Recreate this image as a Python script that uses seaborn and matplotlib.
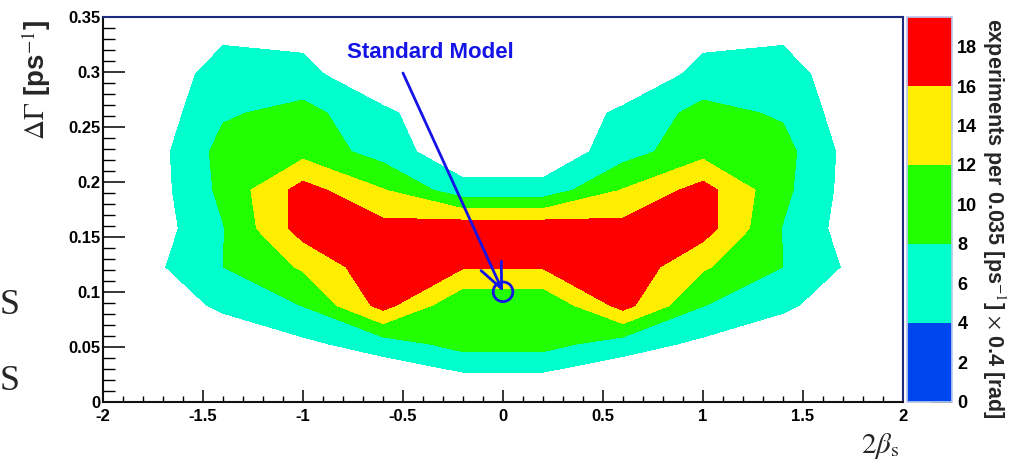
import numpy as np
import matplotlib
matplotlib.use('Agg')
import matplotlib.pyplot as plt
import matplotlib.ticker as mticker
from matplotlib.colors import ListedColormap, BoundaryNorm
import seaborn as sns

# bin centres of the 2D histogram (0.4 rad x 0.035 ps^-1 bins)
beta_centers = [-1.8, -1.4, -1.0, -0.6, -0.2, 0.2, 0.6, 1.0, 1.4, 1.8]
dgamma_centers = [0.0175, 0.0525, 0.0875, 0.1225, 0.1575,
                  0.1925, 0.2275, 0.2625, 0.2975, 0.3325]

# experiments per bin, one list per dGamma row (bottom to top)
row_0175 = [0.0, 0.0, 0.5, 0.0, 2.0, 2.0, 0.0, 0.5, 0.0, 0.0]
row_0525 = [0.5, 2.0, 3.1, 5.9, 9.5, 9.5, 5.9, 3.1, 2.0, 0.5]
row_0875 = [2.0, 4.5, 8.1, 17.4, 8.5, 8.5, 17.4, 8.1, 4.5, 2.0]
row_1225 = [2.4, 8.0, 12.5, 19.0, 16.3, 16.3, 19.0, 12.5, 8.0, 2.4]
row_1575 = [1.0, 7.8, 17.8, 17.4, 19.0, 19.0, 17.4, 17.8, 7.8, 1.0]
row_1925 = [1.1, 9.0, 17.6, 12.2, 5.5, 5.5, 12.2, 17.6, 9.0, 1.1]
row_2275 = [1.2, 9.4, 10.6, 6.3, 0.8, 0.8, 6.3, 10.6, 9.4, 1.2]
row_2625 = [0.6, 7.5, 9.3, 5.0, 0.0, 0.0, 5.0, 9.3, 7.5, 0.6]
row_2975 = [1.0, 5.6, 5.5, 0.0, 0.0, 0.0, 0.0, 5.5, 5.6, 1.0]
row_3325 = [0.5, 3.5, 2.8, 0.0, 0.0, 0.0, 0.0, 2.8, 3.5, 0.5]

contour_levels = [4, 8, 12, 16, 20]
palette_bounds = [0, 4, 8, 12, 16, 19.5]
palette_colors = ['#0046ee', '#00ffcc', '#22ff00', '#ffee00', '#ff0000']
palette_ticks = [0, 2, 4, 6, 8, 10, 12, 14, 16, 18]

x_ticks = [-2, -1.5, -1, -0.5, 0, 0.5, 1, 1.5, 2]
x_ticklabels = ['-2', '-1.5', '-1', '-0.5', '0', '0.5', '1', '1.5', '2']
y_ticks = [0, 0.05, 0.1, 0.15, 0.2, 0.25, 0.3, 0.35]
y_ticklabels = ['0', '0.05', '0.1', '0.15', '0.2', '0.25', '0.3', '0.35']

sm_beta = [0.0]
sm_dgamma = [0.1]

counts = np.array([row_0175, row_0525, row_0875, row_1225, row_1575,
                   row_1925, row_2275, row_2625, row_2975, row_3325])

sns.set_theme(style='white')
plt.rcParams['font.family'] = ['Liberation Sans', 'DejaVu Sans']
plt.rcParams['mathtext.fontset'] = 'stix'

W, H = 1013, 466
fig = plt.figure(figsize=(W / 100, H / 100), dpi=100)
ax = fig.add_axes([103 / W, 64.3 / H, 800 / W, 384.7 / H])

ax.contourf(beta_centers, dgamma_centers, counts,
            levels=contour_levels, colors=palette_colors[1:])

sm_col = '#1414e6'
sns.scatterplot(x=sm_beta, y=sm_dgamma, ax=ax, marker='o', s=200,
                facecolors='none', edgecolor=sm_col, linewidth=2, zorder=5)
ax.annotate('', xy=(0.0, 0.1), xytext=(-0.5, 0.299),
            arrowprops=dict(arrowstyle='->,head_length=0.9,head_width=0.4',
                            color=sm_col, lw=2, shrinkA=0, shrinkB=0,
                            mutation_scale=20), zorder=6)
ax.text(-0.3625, 0.318, 'Standard Model', color=sm_col, fontsize=16,
        fontweight='bold', ha='center', va='center')

ax.set_xlim(-2, 2)
ax.set_ylim(0, 0.35)
ax.set_xticks(x_ticks)
ax.set_xticklabels(x_ticklabels)
ax.set_yticks(y_ticks)
ax.set_yticklabels(y_ticklabels)
ax.xaxis.set_minor_locator(mticker.MultipleLocator(0.1))
ax.yaxis.set_minor_locator(mticker.MultipleLocator(0.01))
ax.tick_params(which='both', direction='in', bottom=True, left=True,
               top=False, right=False, color='black', labelcolor='black')
ax.tick_params(axis='x', which='major', length=8.5, width=1.1, labelsize=12, pad=5)
ax.tick_params(axis='x', which='minor', length=4, width=1.0)
ax.tick_params(axis='y', which='major', length=16, width=1.1, labelsize=12, pad=2)
ax.tick_params(axis='y', which='minor', length=8.5, width=1.0)
for lbl in ax.get_xticklabels() + ax.get_yticklabels():
    lbl.set_fontweight('bold')
for side in ['top', 'right']:
    ax.spines[side].set_color('#1c2a80')
    ax.spines[side].set_linewidth(1.5)
for side in ['left', 'bottom']:
    ax.spines[side].set_color('#111111')
    ax.spines[side].set_linewidth(1.5)

# palette axis
cax = fig.add_axes([906.7 / W, 64.3 / H, 45 / W, 384.7 / H])
pal = plt.cm.ScalarMappable(cmap=ListedColormap(palette_colors),
                            norm=BoundaryNorm(palette_bounds, len(palette_colors)))
cb = fig.colorbar(pal, cax=cax, ticks=palette_ticks, spacing='proportional')
cb.minorticks_off()
cb.outline.set_edgecolor('#b8c8f0')
cax.tick_params(direction='in', length=15, width=1.2, color='black',
                labelsize=13, pad=4, labelcolor='black')
for lbl in cax.get_yticklabels():
    lbl.set_fontweight('bold')

fig.text(994 / W, 1 - 218 / H, 'experiments per 0.035 [ps$^{-1}$] $\\times$ 0.4 [rad]',
         rotation=-90, ha='center', va='center', fontsize=15.5, fontweight='bold')
fig.text(36 / W, 1 - 80 / H, r'$\Delta\Gamma$ [ps$^{-1}$]', rotation=90,
         ha='center', va='center', fontsize=20, fontweight='bold')
fig.text(880 / W, 1 - 446 / H, r'$2\beta_{\rm s}$', ha='center', va='center',
         fontsize=21)

# letters from the neighbouring slide text at the left edge
fig.text(0, 1 - 305 / H, 'S', ha='left', va='center', fontsize=26,
         family='Liberation Serif')
fig.text(0, 1 - 381 / H, 'S', ha='left', va='center', fontsize=26,
         family='Liberation Serif')

fig.savefig('out.png', dpi=100)
